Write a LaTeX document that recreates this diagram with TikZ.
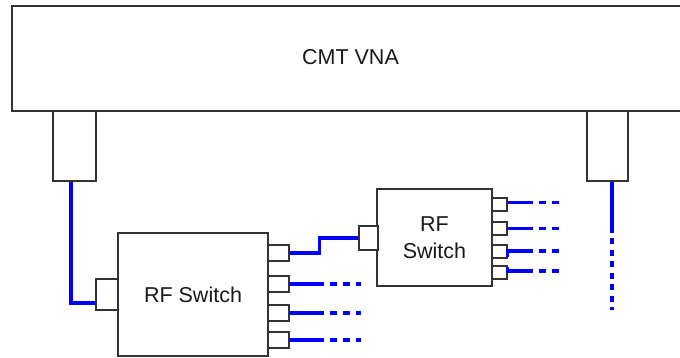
\documentclass[tikz,border=0pt]{standalone}
\usepackage{fontspec}
\setmainfont{Liberation Sans}
\usetikzlibrary{calc}
\begin{document}
\begin{tikzpicture}[x=1pt,y=-1pt,
  box/.style={draw=black!80, line width=1.3pt, fill=white, rectangle, inner sep=0pt, anchor=center},
  lbl/.style={font=\fontsize{21.5}{27}\selectfont, align=center, text=black!90},
  wire/.style={draw=blue, line width=3.5pt},
  dwire/.style={draw=blue, line width=3.5pt, dash pattern=on 7pt off 6pt, dash phase=7pt},
  vdwire/.style={draw=blue, line width=3.5pt, dash pattern=on 6pt off 5.5pt, dash phase=6pt}
]
\useasboundingbox (0,0) rectangle (680,358);
\fill[white] (0,0) rectangle (680,358);
% CMT VNA body (continues past the right edge)
\draw[black!80, line width=1.5pt] (680,6) -- (12,6) -- (12,111) -- (680,111);
\node[lbl] (vna) at (350.5,57.5) {CMT VNA};
% VNA ports
\node[box, minimum width=43pt, minimum height=70pt] (vp1) at (74.5,146) {};
\node[box, minimum width=41pt, minimum height=70pt] (vp2) at (607.5,146) {};
% RF switch 1
\node[box, lbl, minimum width=150pt, minimum height=123pt] (sw1) at (193,294.5) {RF Switch};
\node[box, minimum width=22pt, minimum height=31pt] (in1) at (107,294.5) {};
\foreach \i/\y in {1/253,2/284,3/313,4/340}
  \node[box, minimum width=21pt, minimum height=16pt] (o1\i) at (278.5,\y) {};
% RF switch 2
\node[box, lbl, minimum width=115pt, minimum height=97pt] (sw2) at (434.5,237.5) {RF\\Switch};
\node[box, minimum width=19pt, minimum height=24pt] (in2) at (368.5,238) {};
\foreach \i/\y in {1/204.5,2/228.5,3/251.5,4/272.5}
  \node[box, minimum width=15pt, minimum height=13pt] (o2\i) at (499.5,\y) {};
% wires
\draw[wire] ($(vp1.south)+(-3.5,0)$) |- ($(in1.west)+(0,8.5)$);
\coordinate (j1) at ($(o11.east)+(30,0)$);
\draw[wire] (o11.east) -- (j1) |- (in2.west);
\foreach \i in {2,3,4}{
  \coordinate (d1\i) at ($(o1\i.east)+(34,0)$);
  \coordinate (t1\i) at ($(o1\i.east)+(71,0)$);
  \draw[wire] (o1\i.east) -- (d1\i);
  \draw[dwire] (d1\i) -- (t1\i);
}
\coordinate (d21) at ($(o21.east)+(25,-2)$);
\coordinate (t21) at ($(o21.east)+(53,-2)$);
\draw[wire] ($(o21.east)+(0,-2)$) -- (d21);
\draw[dwire] (d21) -- (t21);
\coordinate (d22) at ($(o22.east)+(25,0)$);
\coordinate (t22) at ($(o22.east)+(53,0)$);
\draw[wire] (o22.east) -- (d22);
\draw[dwire] (d22) -- (t22);
\coordinate (d23) at ($(o23.east)+(25,-0.5)$);
\coordinate (t23) at ($(o23.east)+(53,-0.5)$);
\draw[wire] ($(o23.east)+(0,5)$) |- (d23);
\draw[dwire] (d23) -- (t23);
\coordinate (d24) at ($(o24.east)+(25,-1.5)$);
\coordinate (t24) at ($(o24.east)+(53,-1.5)$);
\draw[wire] ($(o24.east)+(0,-5.5)$) |- (d24);
\draw[dwire] (d24) -- (t24);
% VNA port 2 line
\coordinate (v2a) at ($(vp2.south)+(4.5,0)$);
\coordinate (v2b) at ($(vp2.south)+(4.5,51)$);
\coordinate (v2c) at ($(vp2.south)+(4.5,128)$);
\draw[wire] (v2a) -- (v2b);
\draw[vdwire] (v2b) -- (v2c);
\end{tikzpicture}
\end{document}
